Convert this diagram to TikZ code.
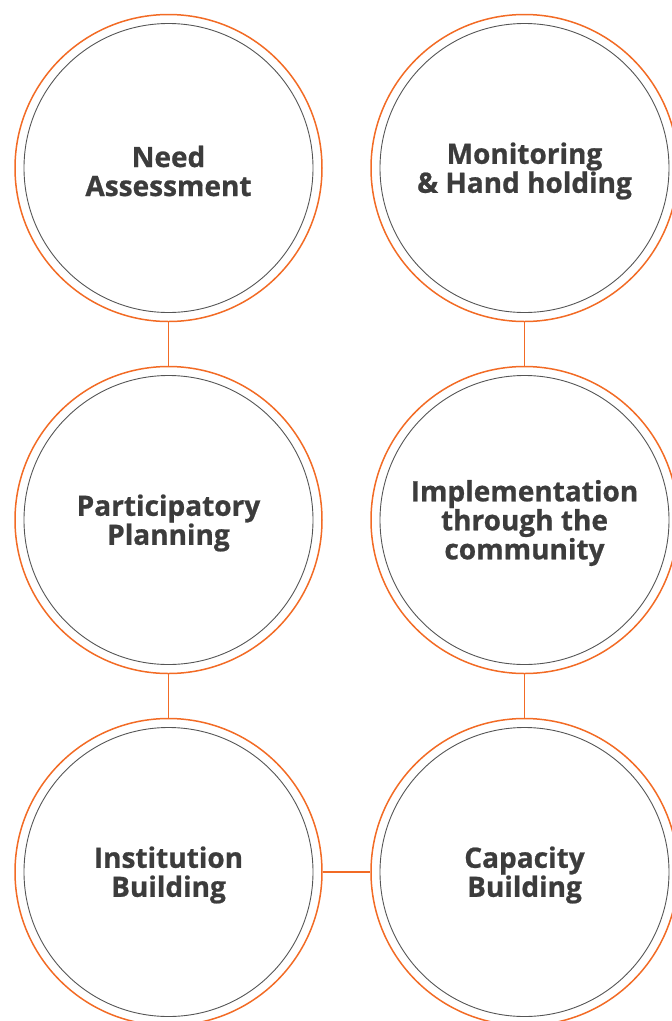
\documentclass[tikz,border=0pt]{standalone}
\usepackage{fontspec}
\setmainfont{Open Sans}[BoldFeatures={FakeBold=0.8}]
\usepackage{tikz}
\usetikzlibrary{
    positioning
}
\definecolor{ringorange}{HTML}{F26B25}
\definecolor{ringgray}{HTML}{555555}
\definecolor{labelgray}{HTML}{3C3C3C}
\tikzstyle{ring} = [
    circle,
    draw=ringorange,
    line width=1.5pt,
    minimum size=307pt,
    inner sep=0pt
]
\tikzstyle{core} = [
    circle,
    draw=ringgray,
    line width=0.9pt,
    minimum size=289pt,
    inner sep=0pt,
    align=center,
    text=labelgray,
    font=\fontsize{28}{29}\selectfont\bfseries
]
\tikzstyle{link} = [
    draw=ringorange,
    line width=1.3pt
]

\begin{document}
\begin{tikzpicture}[x=1pt, y=1pt]
        % Page frame
        \useasboundingbox (0,0) rectangle (672,-1021);
        \clip (0,0) rectangle (672,-1021);

        % Outer rings
        \node[ring] (need) at (168.5,-168) {};
        \node[ring, below=43.5pt of need] (plan) {};
        \node[ring, below=43.5pt of plan] (inst) {};
        \node[ring, right=47.5pt of need] (mon) {};
        \node[ring, right=47.5pt of plan] (impl) {};
        \node[ring, right=47.5pt of inst] (cap) {};

        % Inner rings with labels
        \node[core, draw=none] (needtxt) at ([yshift=-3pt]need) {Need\\Assessment};
        \node[core, draw=none] (plantxt) at ([yshift=-3pt]plan) {Participatory\\Planning};
        \node[core, draw=none] (insttxt) at ([yshift=-3pt]inst) {Institution\\Building};
        \node[core, draw=none] (montxt) at ([yshift=-3pt]mon) {Monitoring\\\& Hand holding};
        \node[core, draw=none] (impltxt) at ([yshift=-3pt]impl) {Implementation\\through the\\community};
        \node[core, draw=none] (captxt) at ([yshift=-3pt]cap) {Capacity\\Building};
        \foreach \n in {need,plan,inst,mon,impl,cap}
            \node[core] (\n in) at (\n) {};

        % Connectors
        \draw[link] (need) -- (plan);
        \draw[link] (plan) -- (inst);
        \draw[link] (inst) -- (cap);
        \draw[link] (cap) -- (impl);
        \draw[link] (impl) -- (mon);
\end{tikzpicture}
\end{document}
